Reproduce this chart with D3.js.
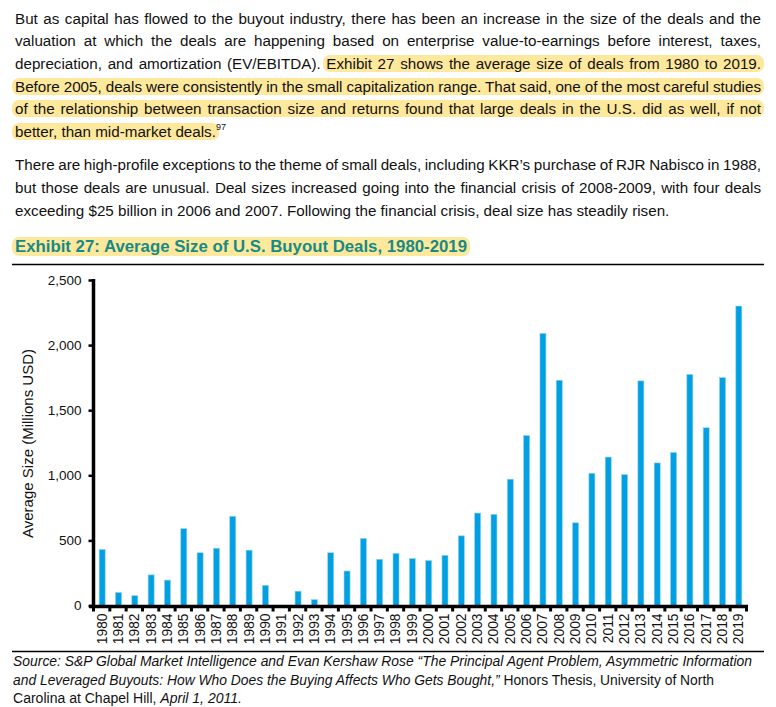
<!DOCTYPE html>
<html>
<head>
<meta charset="utf-8">
<script src="https://cdn.jsdelivr.net/npm/d3@7"></script>
<style>
body { margin:0; background:#fff; font-family: Arial, "Liberation Sans", sans-serif; }
#page { position:relative; width:776px; height:707px; overflow:hidden; }
#chart { position:absolute; left:0; top:0; }
.line { position:absolute; left:15px; font-size:15.2px; line-height:20px; height:20px; color:#111; white-space:nowrap; }
.hl { background:#fee89c; border-radius:7px; padding:0 3px; margin:0 -3px; }
.title { font-weight:bold; font-size:16.8px; color:#178a86; }
sup { font-size:9px; vertical-align:7px; line-height:0; }
</style>
</head>
<body>
<div id="page">
  <svg id="chart"></svg>
</div>
<script>
// paragraph text, one entry per printed line
var para1 = [
  "But as capital has flowed to the buyout industry, there has been an increase in the size of the deals and the",
  "valuation at which the deals are happening based on enterprise value-to-earnings before interest, taxes,",
  "depreciation, and amortization (EV/EBITDA). ",
  "Before 2005, deals were consistently in the small capitalization range. That said, one of the most careful studies",
  "of the relationship between transaction size and returns found that large deals in the U.S. did as well, if not",
  "better, than mid-market deals."
];
var para1Marked = ["", "", "Exhibit 27 shows the average size of deals from 1980 to 2019.", "", "", ""];
var para2 = [
  "There are high-profile exceptions to the theme of small deals, including KKR\u2019s purchase of RJR Nabisco in 1988,",
  "but those deals are unusual. Deal sizes increased going into the financial crisis of 2008-2009, with four deals",
  "exceeding $25 billion in 2006 and 2007. Following the financial crisis, deal size has steadily risen."
];
var title = "Exhibit 27: Average Size of U.S. Buyout Deals, 1980-2019";

var years = ["1980","1981","1982","1983","1984","1985","1986","1987","1988","1989",
  "1990","1991","1992","1993","1994","1995","1996","1997","1998","1999",
  "2000","2001","2002","2003","2004","2005","2006","2007","2008","2009",
  "2010","2011","2012","2013","2014","2015","2016","2017","2018","2019"];
var avgSize = [430, 100, 75, 235, 195, 590, 405, 440, 685, 425,
  155, 0, 110, 45, 405, 265, 515, 355, 400, 360,
  345, 385, 535, 710, 700, 970, 1305, 2090, 1730, 635,
  1015, 1140, 1005, 1725, 1095, 1175, 1775, 1365, 1750, 2300];
var yTicks = [0, 500, 1000, 1500, 2000, 2500];

var page = d3.select("#page");
var textWidth = 746;

// stretch word gaps so the line fills the column
function justify(div) {
  var w = div.node().getBoundingClientRect().width;
  var spaces = (div.text().match(/ /g) || []).length;
  if (spaces) div.style("word-spacing", ((textWidth - w) / spaces) + "px");
}

// text lines (top = baseline - offset of baseline in the 20px line box)
para1.forEach(function(t, i){
  var div = page.append("div").attr("class", "line")
    .style("top", (24 + 22.6 * i - 15.2) + "px");
  if (i < 3) {
    div.append("span").text(t);
    if (para1Marked[i]) div.append("span").attr("class", "hl").text(para1Marked[i]);
  } else {
    div.append("span").attr("class", "hl").text(t);
    if (i == 5) div.append("sup").text("97");
  }
  if (i < 5) justify(div);
});
para2.forEach(function(t, i){
  var div = page.append("div").attr("class", "line")
    .style("top", (170.5 + 22.6 * i - 15.2) + "px")
    .text(t);
  if (i < 2) justify(div);
});
page.append("div").attr("class", "line")
  .style("top", (252.7 - 15.8) + "px")
  .append("span").attr("class", "hl title").text(title);

// chart
var svg = d3.select("#chart").attr("width", 776).attr("height", 707);

svg.append("line").attr("x1", 12).attr("x2", 764).attr("y1", 264.5).attr("y2", 264.5)
  .attr("stroke", "#000").attr("stroke-width", 1.5);
svg.append("line").attr("x1", 12).attr("x2", 764).attr("y1", 651.5).attr("y2", 651.5)
  .attr("stroke", "#000").attr("stroke-width", 1.5);

var x = d3.scaleBand().domain(years).range([93.5, 746.5]).padding(0);
var y = d3.scaleLinear().domain([0, 2500]).range([605.5, 280]);
var barW = 6;

svg.append("g").selectAll("rect")
  .data(years)
  .join("rect")
  .attr("x", function(d){ return x(d) + x.bandwidth() / 2 - barW / 2 + 0.5; })
  .attr("y", function(d, i){ return y(avgSize[i]); })
  .attr("width", barW)
  .attr("height", function(d, i){ return y(0) - y(avgSize[i]); })
  .attr("fill", "#00a0e2")
  .attr("stroke", "#8fd0ef")
  .attr("stroke-width", 0.6);

// y axis
var yAxis = svg.append("g").attr("transform", "translate(93.5,0)")
  .call(d3.axisLeft(y).tickValues(yTicks).tickFormat(d3.format(",")).tickSize(5).tickSizeOuter(0).tickPadding(7));
yAxis.select(".domain").attr("stroke-width", 3.5).attr("d", "M0," + (y(2500) - 1) + "V" + (y(0) + 2));
yAxis.selectAll(".tick line").attr("stroke-width", 2.5);
yAxis.selectAll("text").attr("font-size", "13.5px").attr("font-family", "Arial, 'Liberation Sans', sans-serif").attr("fill", "#111");

// x axis
var xAxis = svg.append("g").attr("transform", "translate(0,606.5)")
  .call(d3.axisBottom(x).tickSize(0).tickSizeOuter(0));
xAxis.select(".domain").attr("stroke-width", 3.5).attr("d", "M89,0H748");
xAxis.selectAll("text")
  .attr("transform", "rotate(-90)")
  .attr("x", -7).attr("y", 0).attr("dy", "0.36em")
  .style("text-anchor", "end")
  .attr("font-size", "13.8px").attr("font-family", "Arial, 'Liberation Sans', sans-serif").attr("fill", "#111");
xAxis.append("g").selectAll("line")
  .data(years.concat(["end"]))
  .join("line")
  .attr("x1", function(d){ return d == "end" ? x.range()[1] : x(d); })
  .attr("x2", function(d){ return d == "end" ? x.range()[1] : x(d); })
  .attr("y1", 0).attr("y2", 5)
  .attr("stroke", "#000").attr("stroke-width", 3);

svg.append("text")
  .attr("transform", "translate(33,443.5) rotate(-90)")
  .attr("text-anchor", "middle")
  .attr("font-size", "15px")
  .attr("fill", "#111")
  .text("Average Size (Millions USD)");

// source note
var src = svg.append("g").attr("font-size", "14px").attr("fill", "#111");
src.append("text").attr("x", 13).attr("y", 666)
  .attr("font-style", "italic")
  .attr("textLength", 739).attr("lengthAdjust", "spacingAndGlyphs")
  .text("Source: S&P Global Market Intelligence and Evan Kershaw Rose \u201cThe Principal Agent Problem, Asymmetric Information");
var s2 = src.append("text").attr("x", 13).attr("y", 684.5)
  .attr("textLength", 701).attr("lengthAdjust", "spacingAndGlyphs");
s2.append("tspan").attr("font-style", "italic").text("and Leveraged Buyouts: How Who Does the Buying Affects Who Gets Bought,\u201d");
s2.append("tspan").text(" Honors Thesis, University of North");
var s3 = src.append("text").attr("x", 13).attr("y", 703)
  .attr("textLength", 229).attr("lengthAdjust", "spacingAndGlyphs");
s3.append("tspan").text("Carolina at Chapel Hill, ");
s3.append("tspan").attr("font-style", "italic").text("April 1, 2011.");
</script>
</body>
</html>
